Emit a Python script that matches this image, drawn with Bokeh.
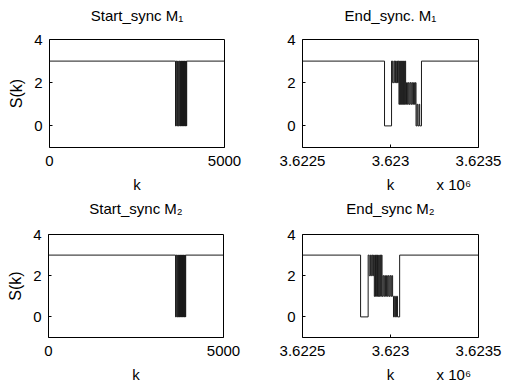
from bokeh.plotting import figure
from bokeh.layouts import column, row
from bokeh.models import FixedTicker, LinearAxis
from bokeh.embed import file_html
from bokeh.resources import INLINE

FONT = "Liberation Sans"

# ---- data (step signals: value holds from each k until the next k) ----
start1_k = [0, 3600, 3620, 3640, 3660, 3680, 3700, 3720, 3740, 3750, 3760, 3770,
            3780, 3790, 3800, 3810, 3820, 3830, 3840, 3850, 3860, 3870, 3880,
            3890, 3900, 3910, 3920, 5000]
start1_s = [3, 0, 3, 0, 3, 0, 3, 0, 3, 0, 3, 0,
            3, 0, 3, 0, 3, 0, 3, 0, 3, 0, 3,
            0, 3, 0, 3, 3]

start2_k = [0, 3630, 3650, 3670, 3690, 3705, 3720, 3730, 3740, 3750, 3760, 3770,
            3780, 3790, 3800, 3810, 3820, 3830, 3840, 3850, 3860, 3870, 3880,
            3890, 3900, 3910, 3920, 3930, 5000]
start2_s = [3, 0, 3, 0, 3, 0, 3, 0, 3, 0, 3, 0,
            3, 0, 3, 0, 3, 0, 3, 0, 3, 0, 3,
            0, 3, 0, 3, 3, 3]

end1_k = [3622500, 3622966, 3623006, 3623012, 3623019, 3623024, 3623028, 3623032,
          3623036, 3623040, 3623044, 3623048, 3623052, 3623055, 3623058, 3623061,
          3623064, 3623067, 3623070, 3623073, 3623076, 3623079, 3623083, 3623086,
          3623091, 3623096, 3623101, 3623106, 3623111, 3623116, 3623121, 3623126,
          3623131, 3623136, 3623141, 3623145, 3623150, 3623155, 3623162, 3623166,
          3623176, 3623500]
end1_s = [3, 0, 3, 2, 3, 2, 3, 2,
          3, 2, 3, 1, 3, 1, 3, 1,
          3, 1, 3, 1, 3, 1, 3, 1,
          2, 1, 2, 1, 2, 1, 2, 1,
          2, 1, 2, 0, 1, 0, 1, 0,
          3, 3]

end2_k = [3622500, 3622830, 3622873, 3622879, 3622886, 3622891, 3622896, 3622900,
          3622904, 3622908, 3622912, 3622915, 3622919, 3622922, 3622926, 3622929,
          3622933, 3622936, 3622940, 3622944, 3622948, 3622952, 3622957, 3622962,
          3622967, 3622972, 3622977, 3622982, 3622987, 3622992, 3622997, 3623002,
          3623007, 3623012, 3623017, 3623022, 3623028, 3623034, 3623040, 3623052,
          3623500]
end2_s = [3, 0, 3, 2, 3, 2, 3, 2,
          3, 1, 3, 1, 3, 1, 3, 1,
          3, 1, 3, 1, 3, 1, 2, 1,
          2, 1, 2, 1, 2, 1, 2, 1,
          2, 1, 0, 1, 0, 1, 0, 3,
          3]

titles = ["Start_sync M\u2081", "End_sync. M\u2081", "Start_sync M\u2082", "End_sync M\u2082"]
y_ticks = [0, 2, 4]
start_x_ticks = [0, 5000]
end_x_ticks = [3622500, 3623000, 3623500]
end_x_labels = ["3.6225", "3.623", "3.6235"]
x_label = "k"
y_label = "S(k)"
exp_text = "x 10\u2076"


def label_axis(ticks, labels, standoff, size):
    ax = LinearAxis(ticker=FixedTicker(ticks=ticks),
                    major_label_overrides={t: l for t, l in zip(ticks, labels)})
    ax.axis_line_color = None
    ax.major_tick_line_color = None
    ax.minor_tick_line_color = None
    ax.major_tick_in = 0
    ax.major_tick_out = 0
    ax.major_label_standoff = standoff
    ax.major_label_text_font = FONT
    ax.major_label_text_font_size = size
    ax.major_label_text_color = "black"
    return ax


def make_fig(title, ks, ss, xr, xticks, xlabels, ylab, w, h, bl, br, bt, bb,
             title_standoff, k_pos, exp_pos):
    p = figure(width=w, height=h, x_range=xr, y_range=(-1, 4),
               output_backend="svg", toolbar_location=None,
               min_border_left=bl, min_border_right=br,
               min_border_top=bt, min_border_bottom=bb)
    p.step(ks, ss, mode="after", line_color="#1a1a1a", line_width=1)
    p.xgrid.visible = False
    p.ygrid.visible = False
    p.outline_line_color = "black"
    p.outline_line_alpha = 1
    p.outline_line_width = 1
    p.background_fill_color = "white"
    p.border_fill_color = "white"

    main_x = p.xaxis[0]
    main_y = p.yaxis[0]
    for ax in (main_x, main_y):
        ax.axis_line_color = None
        ax.major_tick_in = 3
        ax.major_tick_out = 0
        ax.major_tick_line_color = "black"
        ax.minor_tick_line_color = None
        ax.major_label_text_font = FONT
        ax.major_label_text_font_size = "15px"
        ax.major_label_text_color = "black"
        ax.axis_label_text_font = FONT
        ax.axis_label_text_font_size = "16px"
        ax.axis_label_text_font_style = "normal"
        ax.axis_label_text_color = "black"
    main_y.ticker = FixedTicker(ticks=y_ticks)
    main_x.ticker = FixedTicker(ticks=xticks)
    if xlabels is not None:
        main_x.major_label_overrides = {t: l for t, l in zip(xticks, xlabels)}
    main_x.major_label_standoff = 8
    main_y.major_label_standoff = 7
    if ylab:
        main_y.axis_label = ylab
        main_y.axis_label_standoff = 6

    # title carried by a tick-less axis above the frame
    p.add_layout(label_axis([k_pos], [title], title_standoff, "15px"), "above")

    # "k" and exponent on one line, carried by a second tick-less axis
    ticks2 = [k_pos] if exp_pos is None else [k_pos, exp_pos]
    labels2 = [x_label] if exp_pos is None else [x_label, exp_text]
    p.add_layout(label_axis(ticks2, labels2, 7, "15px"), "below")
    return p


p1 = make_fig(titles[0], start1_k, start1_s, (0, 5000), start_x_ticks, None, y_label,
              258, 196, 49, 34, 39, 49, 16, 2500, None)
p2 = make_fig(titles[1], end1_k, end1_s, (3622500, 3623500), end_x_ticks, end_x_labels, None,
              252, 196, 44, 32, 39, 49, 16, 3623000, 3623360)
p3 = make_fig(titles[2], start2_k, start2_s, (0, 5000), start_x_ticks, None, y_label,
              258, 191, 48, 35, 36, 50, 18, 2500, None)
p4 = make_fig(titles[3], end2_k, end2_s, (3622500, 3623500), end_x_ticks, end_x_labels, None,
              252, 191, 44, 32, 36, 50, 18, 3623000, 3623360)

layout = column(row(p1, p2), row(p3, p4))
open("out.html", "w").write(file_html(layout, INLINE))
